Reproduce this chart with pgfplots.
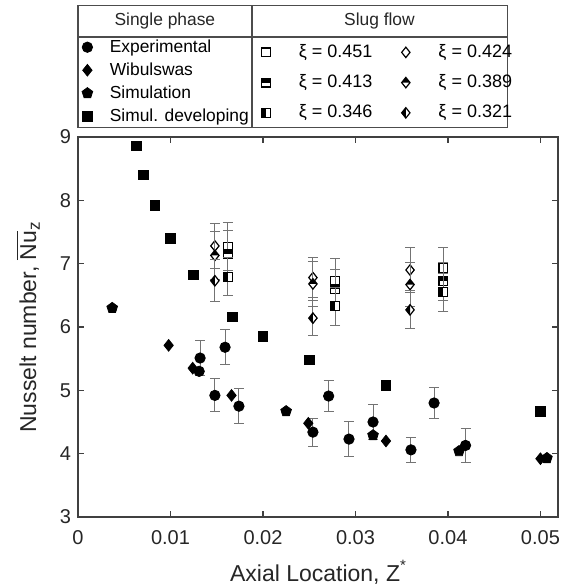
\documentclass[border=0pt]{standalone}
\usepackage{pgfplots}
\pgfplotsset{compat=1.18}
\usepackage{fontspec}
\setmainfont{Liberation Sans}

\pgfdeclareplotmark{dmd}{%
  \pgfpathmoveto{\pgfqpoint{0pt}{\pgfplotmarksize}}%
  \pgfpathlineto{\pgfqpoint{0.8\pgfplotmarksize}{0pt}}%
  \pgfpathlineto{\pgfqpoint{0pt}{-\pgfplotmarksize}}%
  \pgfpathlineto{\pgfqpoint{-0.8\pgfplotmarksize}{0pt}}%
  \pgfpathclose\pgfusepathqfillstroke}
\pgfdeclareplotmark{dmdtop}{%
  \pgfpathmoveto{\pgfqpoint{0pt}{\pgfplotmarksize}}%
  \pgfpathlineto{\pgfqpoint{0.8\pgfplotmarksize}{0pt}}%
  \pgfpathlineto{\pgfqpoint{0pt}{-\pgfplotmarksize}}%
  \pgfpathlineto{\pgfqpoint{-0.8\pgfplotmarksize}{0pt}}%
  \pgfpathclose\pgfusepathqfillstroke
  \begin{pgfscope}\pgfsetfillcolor{black}%
  \pgfpathmoveto{\pgfqpoint{0pt}{\pgfplotmarksize}}%
  \pgfpathlineto{\pgfqpoint{0.8\pgfplotmarksize}{0pt}}%
  \pgfpathlineto{\pgfqpoint{-0.8\pgfplotmarksize}{0pt}}%
  \pgfpathclose\pgfusepathqfill\end{pgfscope}}
\pgfdeclareplotmark{dmdleft}{%
  \pgfpathmoveto{\pgfqpoint{0pt}{\pgfplotmarksize}}%
  \pgfpathlineto{\pgfqpoint{0.8\pgfplotmarksize}{0pt}}%
  \pgfpathlineto{\pgfqpoint{0pt}{-\pgfplotmarksize}}%
  \pgfpathlineto{\pgfqpoint{-0.8\pgfplotmarksize}{0pt}}%
  \pgfpathclose\pgfusepathqfillstroke
  \begin{pgfscope}\pgfsetfillcolor{black}%
  \pgfpathmoveto{\pgfqpoint{0pt}{\pgfplotmarksize}}%
  \pgfpathlineto{\pgfqpoint{-0.8\pgfplotmarksize}{0pt}}%
  \pgfpathlineto{\pgfqpoint{0pt}{-\pgfplotmarksize}}%
  \pgfpathclose\pgfusepathqfill\end{pgfscope}}
\pgfdeclareplotmark{sqopen}{%
  \pgfpathrectangle{\pgfqpoint{-\pgfplotmarksize}{-\pgfplotmarksize}}{\pgfqpoint{2\pgfplotmarksize}{2\pgfplotmarksize}}%
  \pgfusepathqfillstroke}
\pgfdeclareplotmark{sqtop}{%
  \pgfpathrectangle{\pgfqpoint{-\pgfplotmarksize}{-\pgfplotmarksize}}{\pgfqpoint{2\pgfplotmarksize}{2\pgfplotmarksize}}%
  \pgfusepathqfillstroke
  \begin{pgfscope}\pgfsetfillcolor{black}%
  \pgfpathrectangle{\pgfqpoint{-\pgfplotmarksize}{0pt}}{\pgfqpoint{2\pgfplotmarksize}{\pgfplotmarksize}}%
  \pgfusepathqfill\end{pgfscope}}
\pgfdeclareplotmark{sqleft}{%
  \pgfpathrectangle{\pgfqpoint{-\pgfplotmarksize}{-\pgfplotmarksize}}{\pgfqpoint{2\pgfplotmarksize}{2\pgfplotmarksize}}%
  \pgfusepathqfillstroke
  \begin{pgfscope}\pgfsetfillcolor{black}%
  \pgfpathrectangle{\pgfqpoint{-\pgfplotmarksize}{-\pgfplotmarksize}}{\pgfqpoint{\pgfplotmarksize}{2\pgfplotmarksize}}%
  \pgfusepathqfill\end{pgfscope}}

\begin{document}
\begin{tikzpicture}
\path[use as bounding box] (-39pt,-35pt) rectangle (245pt,258.5pt);
\pgfplotsset{
  common/.style={
    scale only axis, width=240pt, height=190pt,
    at={(0pt,0pt)}, anchor=south west,
    xmin=0, xmax=0.0519, ymin=3, ymax=9,
    clip mode=individual,
  },
  ebars/.style={
    error bars/.cd, y dir=both, y explicit,
    error bar style={black!55, line width=0.5pt},
    error mark options={black!55, line width=0.5pt, mark size=2.5pt, rotate=90},
  },
  sluglegend/.style={
    legend image code/.code={\path (0pt,0pt) (20.2pt,0pt); \draw[mark repeat=2,mark phase=2,##1] plot coordinates {(0cm,0cm)(0.2cm,0cm)(0.4cm,0cm)};},
    legend style={at={(#1,1.258)}, anchor=north west, draw=none, fill=none,
      font=\fontsize{9}{10.5}\selectfont, row sep=4.1pt, inner sep=1pt,
      nodes={inner sep=1.5pt}},
    legend cell align=left,
  },
}
\begin{axis}[common,
  axis line style={black!75, line width=0.7pt},
  every tick/.style={black!75, line width=0.6pt},
  major tick length=3pt,
  tick align=inside,
  xtick={0,0.01,0.02,0.03,0.04,0.05},
  ytick={3,4,5,6,7,8,9},
  scaled x ticks=false,
  /pgf/number format/assume math mode=true,
  xticklabel style={/pgf/number format/fixed, /pgf/number format/precision=2, yshift=-3pt},
  tick label style={font=\fontsize{10}{12}\selectfont, black!85},
  label style={font=\fontsize{11.5}{14}\selectfont, black!85},
  xlabel={Axial Location, Z\raisebox{0.9ex}{\fontsize{7.5}{8}\selectfont *}},
  ylabel={Nusselt number, $\overline{\mbox{Nu}}_{\mbox{\fontsize{8.5}{9}\selectfont z}}$},
  xlabel style={at={(axis description cs:0.5,-0.145)}, anchor=center},
  ylabel style={at={(axis description cs:-0.104,0.5)}, anchor=center},
  legend image code/.code={\path (0pt,0pt) (15.2pt,0pt); \draw[mark repeat=2,mark phase=2,#1] plot coordinates {(0cm,0cm)(0.2cm,0cm)(0.4cm,0cm)};},
  legend style={at={(-0.01,1.271)}, anchor=north west, draw=none, fill=none,
    font=\fontsize{8.7}{10}\selectfont, row sep=0.7pt, inner sep=1pt,
    nodes={inner sep=1.5pt}},
  legend cell align=left,
]
% Experimental
\addplot[only marks, mark=*, mark size=2.6pt, black, ebars] coordinates {
  (0.0132,5.51) +- (0,0.27)
  (0.0148,4.92) +- (0,0.26)
  (0.0159,5.68) +- (0,0.28)
  (0.0174,4.75) +- (0,0.28)
  (0.0254,4.34) +- (0,0.22)
  (0.0271,4.91) +- (0,0.25)
  (0.0293,4.23) +- (0,0.28)
  (0.0319,4.50) +- (0,0.27)
  (0.0360,4.06) +- (0,0.20)
  (0.0385,4.80) +- (0,0.25)
  (0.0419,4.13) +- (0,0.27)
  (0.0131,5.30) +- (0,0)
};
\addlegendentry{Experimental}
% Wibulswas
\addplot[only marks, mark=dmd, mark size=2.9pt, black, mark options={fill=black}] coordinates {
  (0.0098,5.71) (0.0124,5.35) (0.0166,4.92) (0.0249,4.48) (0.0333,4.20) (0.0500,3.92)
};
\addlegendentry{Wibulswas}
% Simulation
\addplot[only marks, mark=pentagon*, mark size=2.8pt, black] coordinates {
  (0.0037,6.30) (0.0225,4.67) (0.0319,4.29) (0.0412,4.04) (0.0507,3.93)
};
\addlegendentry{Simulation}
% Simul. developing
\addplot[only marks, mark=square*, mark size=2.4pt, black] coordinates {
  (0.0063,8.86) (0.0071,8.40) (0.0083,7.92) (0.0100,7.40) (0.0125,6.82)
  (0.0167,6.16) (0.0200,5.85) (0.0250,5.48) (0.0333,5.08) (0.0500,4.67)
};
\addlegendentry{Simul. developing}
% legend table frame
\draw[black!70, line width=0.6pt] (axis description cs:0,1.024) rectangle (axis description cs:0.894,1.347);
\draw[black!70, line width=0.6pt] (axis description cs:0,1.263) -- (axis description cs:0.894,1.263);
\draw[black!70, line width=0.6pt] (axis description cs:0.3625,1.024) -- (axis description cs:0.3625,1.347);
\node[font=\fontsize{8.7}{10}\selectfont, black!85] at (axis description cs:0.181,1.305) {Single phase};
\node[font=\fontsize{8.7}{10}\selectfont, black!85] at (axis description cs:0.628,1.305) {Slug flow};
\end{axis}

% slug flow, square marks (first legend column)
\begin{axis}[common, hide axis, sluglegend=0.362]
\addplot[only marks, mark=sqopen, mark size=2.2pt, black, line width=0.6pt, mark options={fill=white}, ebars] coordinates {
  (0.0162,7.27) +- (0,0.38) (0.0278,6.73) +- (0,0.35) (0.0395,6.93) +- (0,0.33)
};
\addlegendentry{ξ = 0.451}
\addplot[only marks, mark=sqtop, mark size=2.2pt, black, line width=0.6pt, mark options={fill=white}, ebars] coordinates {
  (0.0162,7.15) +- (0,0.37) (0.0278,6.60) +- (0,0.30) (0.0395,6.72) +- (0,0.30)
};
\addlegendentry{ξ = 0.413}
\addplot[only marks, mark=sqleft, mark size=2.2pt, black, line width=0.6pt, mark options={fill=white}, ebars] coordinates {
  (0.0162,6.79) +- (0,0.30) (0.0278,6.33) +- (0,0.30) (0.0395,6.55) +- (0,0.30)
};
\addlegendentry{ξ = 0.346}
\end{axis}

% slug flow, diamond marks (second legend column)
\begin{axis}[common, hide axis, sluglegend=0.653]
\addplot[only marks, mark=dmd, mark size=2.6pt, black, line width=0.6pt, mark options={fill=white}, ebars] coordinates {
  (0.0148,7.28) +- (0,0.35) (0.0254,6.78) +- (0,0.32) (0.0359,6.90) +- (0,0.35)
};
\addlegendentry{ξ = 0.424}
\addplot[only marks, mark=dmdtop, mark size=2.6pt, black, line width=0.6pt, mark options={fill=white}, ebars] coordinates {
  (0.0148,7.13) +- (0,0.38) (0.0254,6.68) +- (0,0.35) (0.0359,6.67) +- (0,0.35)
};
\addlegendentry{ξ = 0.389}
\addplot[only marks, mark=dmdleft, mark size=2.6pt, black, line width=0.6pt, mark options={fill=white}, ebars] coordinates {
  (0.0148,6.73) +- (0,0.33) (0.0254,6.14) +- (0,0.28) (0.0359,6.27) +- (0,0.30)
};
\addlegendentry{ξ = 0.321}
\end{axis}
\end{tikzpicture}
\end{document}
